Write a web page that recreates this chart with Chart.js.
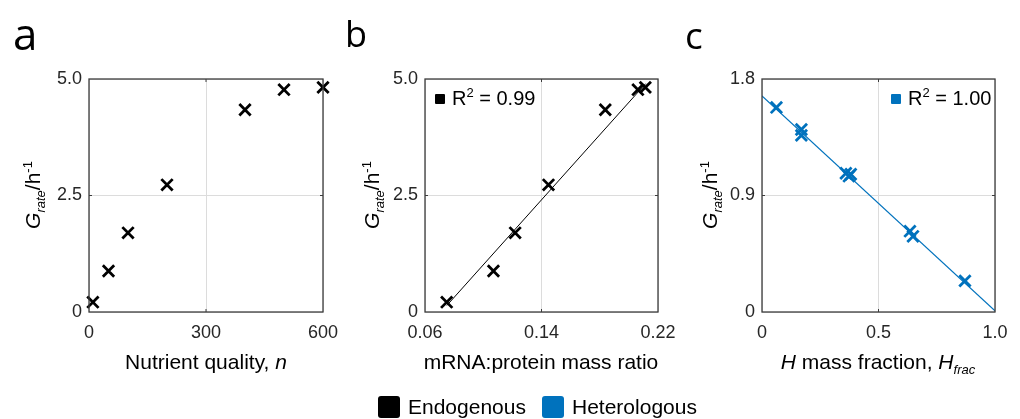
<!DOCTYPE html>
<html>
<head>
<meta charset="utf-8">
<script src="https://cdn.jsdelivr.net/npm/chart.js@4"></script>
<style>
  body { margin: 0; background: #fff; }
  #wrap { position: relative; width: 1020px; height: 419px; overflow: hidden; font-family: "Liberation Sans", Arial, sans-serif; color: #262626; }
  canvas { position: absolute; top: 0; }
  .lbl { position: absolute; font-family: "Open Sans", sans-serif; color: #000; line-height: 1; }
  .xt { position: absolute; top: 350px; font-size: 21px; line-height: 24px; white-space: nowrap; transform: translateX(-50%); color: #000; }
  .yt { position: absolute; top: 183px; font-size: 21px; line-height: 24px; white-space: nowrap; transform: translateX(-50%) rotate(-90deg); color: #000; }
  sub, sup { font-size: 13px; line-height: 0; }
  .r2 { position: absolute; font-size: 20px; line-height: 20px; white-space: nowrap; color: #000; }
  .r2 span.sq { display: inline-block; width: 10px; height: 10px; margin-right: 7px; border-radius: 1px; vertical-align: 1px; }
  .leg { position: absolute; top: 395px; font-size: 21px; line-height: 23px; white-space: nowrap; color: #000; }
  .leg span.sq { display: inline-block; width: 22px; height: 22px; border-radius: 3px; vertical-align: -4px; margin-right: 8px; }
</style>
</head>
<body>
<div id="wrap">
  <canvas id="chartA" width="340" height="419" style="left:0"></canvas>
  <canvas id="chartB" width="340" height="419" style="left:340px"></canvas>
  <canvas id="chartC" width="340" height="419" style="left:680px"></canvas>

  <div class="lbl" style="left:13px; top:11px; font-size:44px;">a</div>
  <div class="lbl" style="left:345px; top:16px; font-size:36px;">b</div>
  <div class="lbl" style="left:685px; top:16px; font-size:37px;">c</div>

  <div class="yt" style="left:33px"><i>G</i><sub><i>rate</i></sub>/h<sup>-1</sup></div>
  <div class="yt" style="left:372px"><i>G</i><sub><i>rate</i></sub>/h<sup>-1</sup></div>
  <div class="yt" style="left:710px"><i>G</i><sub><i>rate</i></sub>/h<sup>-1</sup></div>

  <div class="xt" style="left:206px">Nutrient quality, <i>n</i></div>
  <div class="xt" style="left:541px">mRNA:protein mass ratio</div>
  <div class="xt" style="left:878px"><i>H</i> mass fraction, <i>H</i><sub><i>frac</i></sub></div>

  <div class="r2" style="left:435px; top:88px"><span class="sq" style="background:#000"></span>R<sup>2</sup> = 0.99</div>
  <div class="r2" style="left:891px; top:88px"><span class="sq" style="background:#0072BD"></span>R<sup>2</sup> = 1.00</div>

  <div class="leg" style="left:378px"><span class="sq" style="background:#000"></span>Endogenous</div>
  <div class="leg" style="left:542px"><span class="sq" style="background:#0072BD"></span>Heterologous</div>
</div>

<script>
// panel a: growth rate vs nutrient quality
const nutrientQuality = [10, 50, 100, 200, 400, 500, 600];
const growthRate = [0.21, 0.88, 1.70, 2.73, 4.34, 4.77, 4.82];

// panel b: growth rate vs mRNA:protein ratio (same growth rates)
const mrnaRatio = [0.0749, 0.107, 0.1219, 0.1448, 0.1838, 0.2062, 0.2113];
const fitB_x = [0.075, 0.2115];
const fitB_y = [0.14, 4.90];

// panel c: heterologous mass fraction
const hFrac = [0.062, 0.169, 0.169, 0.360, 0.373, 0.381, 0.635, 0.648, 0.871];
const growthRateC = [1.580, 1.410, 1.365, 1.072, 1.049, 1.064, 0.624, 0.585, 0.241];
const fitC_x = [0, 1.0];
const fitC_y = [1.67, 0.01];

// tick labels
const ticksA_x = ["0", "300", "600"];
const ticksA_y = ["0", "2.5", "5.0"];
const ticksB_x = ["0.06", "0.14", "0.22"];
const ticksB_y = ["0", "2.5", "5.0"];
const ticksC_x = ["0", "0.5", "1.0"];
const ticksC_y = ["0", "0.9", "1.8"];

const BLUE = "#0072BD";
const pts = (xs, ys) => xs.map((x, i) => ({ x: x, y: ys[i] }));

// box + inward ticks, MATLAB style
const boxPlugin = {
    id: "box",
    afterDraw(chart) {
        const { ctx, chartArea: a, scales } = chart;
        ctx.save();
        ctx.strokeStyle = "#3c3c3c";
        ctx.lineWidth = 1.3;
        ctx.strokeRect(a.left, a.top, a.right - a.left, a.bottom - a.top);
        ctx.lineWidth = 1;
        const midX = scales.x.getPixelForValue((scales.x.min + scales.x.max) / 2);
        const midY = scales.y.getPixelForValue((scales.y.min + scales.y.max) / 2);
        ctx.beginPath();
        ctx.moveTo(midX, a.top); ctx.lineTo(midX, a.top + 3);
        ctx.moveTo(midX, a.bottom); ctx.lineTo(midX, a.bottom - 3);
        ctx.moveTo(a.left, midY); ctx.lineTo(a.left + 3, midY);
        ctx.moveTo(a.right, midY); ctx.lineTo(a.right - 3, midY);
        ctx.stroke();
        ctx.restore();
    }
};

function makeChart(id, cfg) {
    const ctx = document.getElementById(id).getContext("2d");
    const tickFont = { family: "'Liberation Sans', Arial, sans-serif", size: 18 };
    const [xmin, xmax] = cfg.xRange, [ymin, ymax] = cfg.yRange;
    new Chart(ctx, {
        type: "scatter",
        data: { datasets: cfg.datasets },
        options: {
            responsive: false,
            animation: false,
            layout: { padding: { left: 0, right: cfg.padRight, top: 79, bottom: 0 } },
            plugins: { legend: { display: false }, tooltip: { enabled: false } },
            scales: {
                x: {
                    type: "linear", min: xmin, max: xmax,
                    afterBuildTicks: s => { s.ticks = [xmin, (xmin + xmax) / 2, xmax].map(v => ({ value: v })); },
                    afterFit: s => { s.height = 107; s.paddingLeft = 0; s.paddingRight = 0; },
                    ticks: { font: tickFont, color: "#262626", padding: 10, maxRotation: 0,
                             callback: (v, i) => cfg.xTicks[i] },
                    grid: { color: "#dcdcdc", drawTicks: false },
                    border: { display: false }
                },
                y: {
                    type: "linear", min: ymin, max: ymax,
                    afterBuildTicks: s => { s.ticks = [ymin, (ymin + ymax) / 2, ymax].map(v => ({ value: v })); },
                    afterFit: s => { s.width = cfg.yWidth; s.paddingTop = 0; s.paddingBottom = 0; },
                    ticks: { font: tickFont, color: "#262626", padding: 7,
                             callback: (v, i) => cfg.yTicks[i] },
                    grid: { color: "#dcdcdc", drawTicks: false },
                    border: { display: false }
                }
            }
        },
        plugins: [boxPlugin]
    });
}

const crossStyle = color => ({
    pointStyle: "crossRot", pointRadius: 8, pointBorderWidth: 2.8,
    borderColor: color, backgroundColor: color, showLine: false, clip: false
});
const fitStyle = (color, w) => ({
    showLine: true, pointRadius: 0, borderColor: color, borderWidth: w, fill: false
});

makeChart("chartA", {
    xRange: [0, 600], yRange: [0, 5], xTicks: ticksA_x, yTicks: ticksA_y,
    yWidth: 89, padRight: 17,
    datasets: [{ data: pts(nutrientQuality, growthRate), ...crossStyle("#000") }]
});

makeChart("chartB", {
    xRange: [0.06, 0.22], yRange: [0, 5], xTicks: ticksB_x, yTicks: ticksB_y,
    yWidth: 85, padRight: 22,
    datasets: [
        { data: pts(fitB_x, fitB_y), ...fitStyle("#000", 1) },
        { data: pts(mrnaRatio, growthRate), ...crossStyle("#000") }
    ]
});

makeChart("chartC", {
    xRange: [0, 1], yRange: [0, 1.8], xTicks: ticksC_x, yTicks: ticksC_y,
    yWidth: 82, padRight: 25,
    datasets: [
        { data: pts(fitC_x, fitC_y), ...fitStyle(BLUE, 1.2) },
        { data: pts(hFrac, growthRateC), ...crossStyle(BLUE) }
    ]
});
</script>
</body>
</html>
